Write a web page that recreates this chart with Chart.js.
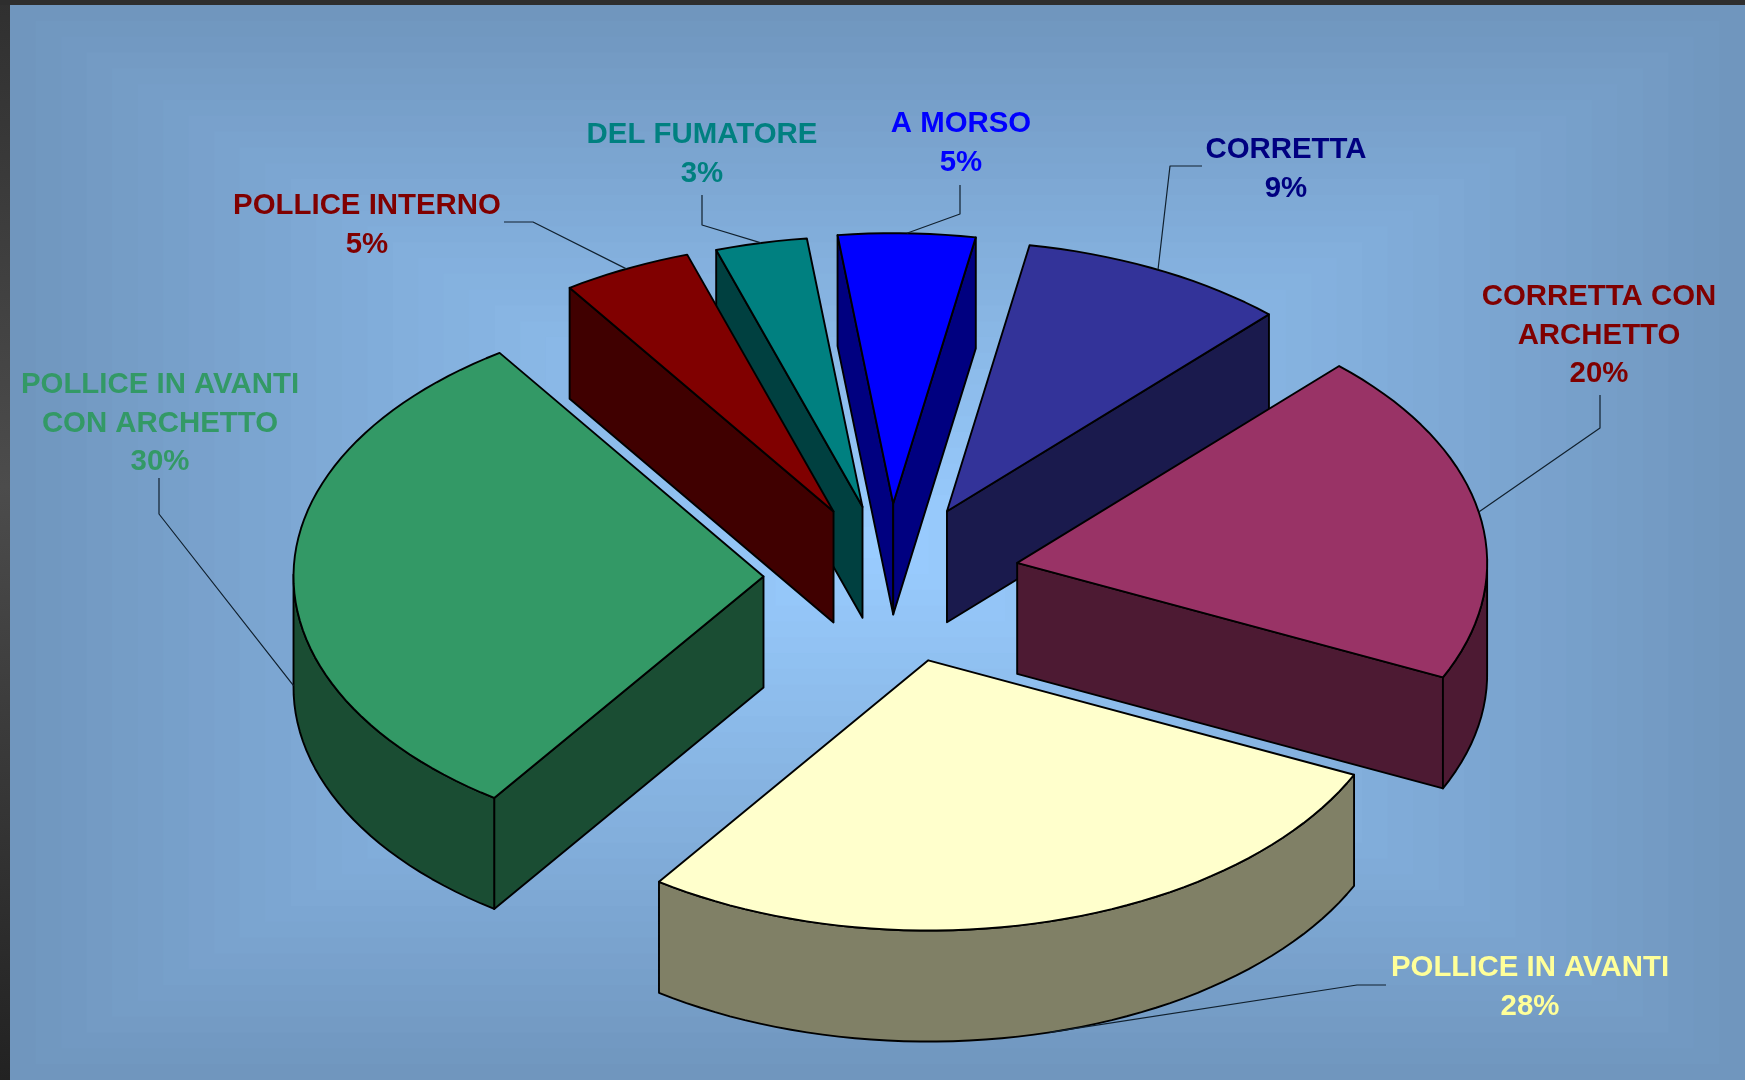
<!DOCTYPE html>
<html>
<head>
<meta charset="utf-8">
<title>Impugnatura</title>
<script src="https://cdn.jsdelivr.net/npm/chart.js@4/dist/chart.umd.min.js"></script>
<style>
  html, body { margin: 0; padding: 0; background: #2e2e2e; }
  canvas { display: block; }
</style>
</head>
<body>
<canvas id="pieChart" width="1745" height="1080"></canvas>
<script>
// slice order is clockwise, starting from A MORSO
const categories = ['A MORSO', 'CORRETTA', 'CORRETTA CON ARCHETTO', 'POLLICE IN AVANTI',
  'POLLICE IN AVANTI CON ARCHETTO', 'POLLICE INTERNO', 'DEL FUMATORE'];
const shares = [4.7, 9.2, 19.95, 27.75, 30.8, 4.45, 3.15];
const percentLabels = ['5%', '9%', '20%', '28%', '30%', '5%', '3%'];
const labelLines = [['A MORSO'], ['CORRETTA'], ['CORRETTA CON', 'ARCHETTO'], ['POLLICE IN AVANTI'],
  ['POLLICE IN AVANTI', 'CON ARCHETTO'], ['POLLICE INTERNO'], ['DEL FUMATORE']];
const topColors = ['#0000ff', '#333399', '#993366', '#ffffcc', '#339966', '#800000', '#008080'];
const sideColors = ['#000080', '#1a1a4d', '#4d1a33', '#808066', '#1a4d33', '#400000', '#004040'];
const textColors = ['#0000ff', '#000080', '#800000', '#ffff99', '#339966', '#800000', '#008080'];

// 3d look
const explode = [128, 128, 130, 150, 126, 127, 125];
const tilt = 0.575;
const depth = 111;

// label anchor [center x, first baseline] and the fixed part of the leader line
const labelPos = [[961, 132], [1286, 158], [1599, 305], [1530, 976], [160, 393], [367, 214], [702, 143]];
const leaderPos = [
  [[960, 185], [960, 214]],
  [[1202, 166], [1170, 166]],
  [[1600, 395], [1600, 428]],
  [[1386, 985], [1357, 985]],
  [[159, 478], [159, 514]],
  [[504, 222], [533, 222]],
  [[702, 195], [702, 225]]
];

function sliceOutline(arc, i) {
  const mid = (arc.startAngle + arc.endAngle) / 2;
  const ex = explode[i] * Math.cos(mid);
  const ey = explode[i] * Math.sin(mid);
  const at = (a, r) => ({
    x: arc.x + ex + r * Math.cos(a),
    y: arc.y + tilt * (ey + r * Math.sin(a))
  });
  const rim = [];
  const n = Math.ceil((arc.endAngle - arc.startAngle) / (Math.PI / 90));
  for (let s = 0; s <= n; s++) {
    rim.push(at(arc.startAngle + (arc.endAngle - arc.startAngle) * s / n, arc.outerRadius));
  }
  return { apex: at(0, 0), rim: rim, mid: mid, leaderEnd: at(mid, arc.outerRadius), ex: ex, ey: ey };
}

// one visible stretch of wall: the edge on top, the same edge moved down by depth
function drawWall(ctx, run, color) {
  ctx.beginPath();
  run.forEach((p, j) => j ? ctx.lineTo(p.x, p.y) : ctx.moveTo(p.x, p.y));
  for (let j = run.length - 1; j >= 0; j--) ctx.lineTo(run[j].x, run[j].y + depth);
  ctx.closePath();
  ctx.fillStyle = color;
  ctx.fill();
  ctx.stroke();
}

const backgroundPlugin = {
  id: 'slideBackground',
  beforeDraw(chart) {
    const ctx = chart.ctx;
    const W = chart.width, H = chart.height;
    ctx.save();
    ctx.fillStyle = '#2e2e2e';
    ctx.fillRect(0, 0, W, H);
    const strip = ctx.createLinearGradient(0, 0, 0, H);
    strip.addColorStop(0, '#303030');
    strip.addColorStop(0.45, '#4c4c4c');
    strip.addColorStop(1, '#222222');
    ctx.fillStyle = strip;
    ctx.fillRect(0, 0, 10, H);
    ctx.fillStyle = '#2e2e2e';
    ctx.fillRect(0, 0, W, 5);
    // stepped rectangular gradient
    const left = 10, top = 5, w = W - left, h = H - top;
    const steps = 34;
    const edge = [112, 150, 190], center = [153, 204, 255];
    for (let s = 0; s < steps; s++) {
      const f = s / (steps - 1);
      const c = edge.map((v, k) => Math.round(v + (center[k] - v) * f));
      const inset = s / steps;
      ctx.fillStyle = 'rgb(' + c.join(',') + ')';
      ctx.fillRect(left + inset * w / 2, top + inset * h / 2, w * (1 - inset), h * (1 - inset));
    }
    ctx.restore();
  }
};

const pie3dPlugin = {
  id: 'pie3d',
  beforeDatasetsDraw(chart) {
    const ctx = chart.ctx;
    const arcs = chart.getDatasetMeta(0).data;
    const outlines = arcs.map(sliceOutline);
    ctx.save();
    ctx.strokeStyle = '#000000';
    ctx.lineWidth = 1.9;
    ctx.lineJoin = 'round';

    // walls, back to front
    const order = arcs.map((a, i) => i).sort((a, b) => outlines[a].apex.y - outlines[b].apex.y);
    order.forEach(i => {
      const o = outlines[i];
      const first = o.rim[0], last = o.rim[o.rim.length - 1];
      // an edge faces the viewer when it runs leftwards on a clockwise outline
      if (first.x < o.apex.x) drawWall(ctx, [o.apex, first], sideColors[i]);
      if (o.apex.x < last.x) drawWall(ctx, [last, o.apex], sideColors[i]);
      let run = [];
      for (let j = 0; j < o.rim.length - 1; j++) {
        if (o.rim[j + 1].x < o.rim[j].x) {
          if (!run.length) run.push(o.rim[j]);
          run.push(o.rim[j + 1]);
        } else if (run.length) {
          drawWall(ctx, run, sideColors[i]);
          run = [];
        }
      }
      if (run.length) drawWall(ctx, run, sideColors[i]);
    });

    // top faces, the library's arcs squashed and moved out
    arcs.forEach((arc, i) => {
      const o = outlines[i];
      ctx.save();
      ctx.translate(arc.x, arc.y);
      ctx.scale(1, tilt);
      ctx.translate(-arc.x + o.ex, -arc.y + o.ey);
      arc.draw(ctx);
      ctx.restore();
      ctx.beginPath();
      ctx.moveTo(o.apex.x, o.apex.y);
      o.rim.forEach(p => ctx.lineTo(p.x, p.y));
      ctx.closePath();
      ctx.stroke();
    });

    // leader lines and labels
    ctx.lineWidth = 1.2;
    ctx.strokeStyle = '#10202e';
    arcs.forEach((arc, i) => {
      const o = outlines[i];
      const frontFacing = Math.sin(o.mid) > -0.1;
      const a = leaderPos[i][0], b = leaderPos[i][1];
      ctx.beginPath();
      ctx.moveTo(a[0], a[1]);
      ctx.lineTo(b[0], b[1]);
      ctx.lineTo(o.leaderEnd.x, o.leaderEnd.y + (frontFacing ? depth : 0));
      ctx.stroke();

      ctx.fillStyle = textColors[i];
      ctx.font = 'bold 29.4px "Liberation Sans", Arial, sans-serif';
      ctx.textAlign = 'center';
      ctx.textBaseline = 'alphabetic';
      const lines = labelLines[i].concat(percentLabels[i]);
      lines.forEach((t, l) => ctx.fillText(t, labelPos[i][0], labelPos[i][1] + l * 38.6));
    });
    ctx.restore();
    return false;
  }
};

new Chart(document.getElementById('pieChart'), {
  type: 'pie',
  data: {
    labels: categories,
    datasets: [{
      data: shares,
      backgroundColor: topColors,
      borderWidth: 0
    }]
  },
  options: {
    responsive: false,
    animation: false,
    rotation: -6.8,
    radius: 470,
    layout: { padding: { left: 34, top: 74 } },
    events: [],
    plugins: {
      legend: { display: false },
      tooltip: { enabled: false }
    }
  },
  plugins: [backgroundPlugin, pie3dPlugin]
});
</script>
</body>
</html>
